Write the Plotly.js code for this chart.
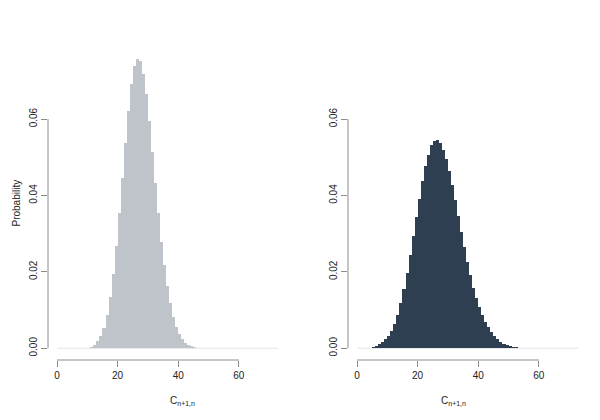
<!DOCTYPE html>
<html>
<head>
<meta charset="utf-8">
<script src="https://cdn.plot.ly/plotly-3.0.1.min.js"></script>
<style>html,body{margin:0;padding:0;background:#fff;}#chart{width:600px;height:420px;}</style>
</head>
<body>
<div id="chart"></div>
<script>
// Bin lower edges (bin width 1)
var bins = [0,1,2,3,4,5,6,7,8,9,10,11,12,13,14,15,16,17,18,19,20,21,22,23,24,25,26,27,28,29,30,31,32,33,34,35,36,37,38,39,40,41,42,43,44,45,46,47,48,49,50,51,52,53,54,55,56,57,58,59,60,61,62,63,64,65,66,67,68,69,70,71,72];

// Left panel probabilities
var probLeft = [0,0,0,0,0,0,0,0,0.00005,0.0001,0.0002,0.0004,0.0008,0.0019,0.0031,0.0052,0.0086,0.0133,0.0194,0.0268,
  0.0354,0.0447,0.0537,0.0622,0.0691,0.0738,0.0757,0.0751,0.0718,0.0665,0.0595,0.0515,0.0434,0.0354,0.0279,0.0217,
  0.0162,0.0118,0.0083,0.0057,0.0037,0.0024,0.0015,0.0009,0.0005,0.0003,0.00015,0.0001,0.00005,0.00003,
  0,0,0,0,0,0,0,0,0,0,0,0,0,0,0,0,0,0,0,0,0,0,0];

// Right panel probabilities
var probRight = [0,0,0,0.0001,0.0002,0.0004,0.0007,0.0011,0.0017,0.0024,0.0033,0.0045,0.0063,0.0087,0.0118,0.0155,
  0.0196,0.0245,0.0294,0.0343,0.0391,0.0437,0.0476,0.0507,0.0531,0.0542,0.0546,0.0538,0.052,0.0495,0.0463,0.0427,
  0.0387,0.0347,0.0305,0.0265,0.0226,0.0191,0.0158,0.0132,0.0108,0.0087,0.0069,0.0055,0.0042,0.0032,0.0024,0.0017,
  0.0012,0.0009,0.0006,0.0004,0.0003,0.0002,0.00015,0.0001,0.00007,0.00005,0.00003,0.00002,
  0,0,0,0,0,0,0,0,0,0,0,0,0];

var yTicks = [0, 0.02, 0.04, 0.06];
var yTickText = ["0.00", "0.02", "0.04", "0.06"];
var xTicks = [0, 20, 40, 60];
var xTickText = ["0", "20", "40", "60"];
var xTitle = "C<sub>n+1,n</sub>";
var yTitle = "Probability";

var fontFam = "Liberation Sans, Arial, Helvetica, sans-serif";
var axisGray = "#8c8c8c";

var traces = [
  {type: "bar", x: bins, y: probLeft, width: 1, offset: 0, xaxis: "x", yaxis: "y",
   marker: {color: "#bec4c9", line: {color: "#bec4c9", width: 0}}, hoverinfo: "x+y"},
  {type: "bar", x: bins, y: probRight, width: 1, offset: 0, xaxis: "x2", yaxis: "y2",
   marker: {color: "#2e3f52", line: {color: "#2e3f52", width: 0}}, hoverinfo: "x+y"}
];

function xAx(domain, anchor) {
  return {domain: domain, anchor: anchor, range: [-2.97, 73.9], showgrid: false, zeroline: false,
    showline: false, ticks: "outside", ticklen: 6, tickwidth: 1, tickcolor: axisGray,
    tickvals: xTicks, ticktext: xTickText, tickfont: {family: fontFam, size: 10, color: "#222"}};
}
function yAx(anchor) {
  return {domain: [60/420, 370/420], anchor: anchor, range: [-0.00307, 0.0781], showgrid: false,
    zeroline: false, showline: false, ticks: "outside", ticklen: 6, tickwidth: 1, tickcolor: axisGray,
    tickvals: yTicks, ticktext: yTickText, tickangle: -90,
    tickfont: {family: fontFam, size: 10, color: "#222"}};
}

var layout = {
  width: 600, height: 420,
  margin: {l: 0, r: 0, t: 0, b: 0},
  paper_bgcolor: "#fff", plot_bgcolor: "#fff",
  showlegend: false, bargap: 0,
  xaxis: xAx([48/600, 281/600], "y"),
  yaxis: yAx("x"),
  xaxis2: xAx([348/600, 581/600], "y2"),
  yaxis2: yAx("x2"),
  shapes: [
    {type: "line", xref: "x domain", x0: 0, x1: 0, yref: "y", y0: 0, y1: 0.06, line: {color: axisGray, width: 1}},
    {type: "line", xref: "x", x0: 0, x1: 60, yref: "y domain", y0: 0, y1: 0, line: {color: axisGray, width: 1}},
    {type: "line", xref: "x2 domain", x0: 0, x1: 0, yref: "y2", y0: 0, y1: 0.06, line: {color: axisGray, width: 1}},
    {type: "line", xref: "x2", x0: 0, x1: 60, yref: "y2 domain", y0: 0, y1: 0, line: {color: axisGray, width: 1}},
    {type: "line", xref: "x", x0: 0, x1: 73, yref: "y", y0: 0, y1: 0, line: {color: "#e2e4e6", width: 1}, layer: "below"},
    {type: "line", xref: "x2", x0: 0, x1: 73, yref: "y2", y0: 0, y1: 0, line: {color: "#e2e4e6", width: 1}, layer: "below"}
  ],
  annotations: [
    {text: yTitle, xref: "paper", yref: "paper", x: 8/600, y: 1 - 203/420, textangle: -90,
     showarrow: false, font: {family: fontFam, size: 10, color: "#222"}},
    {text: xTitle, xref: "paper", yref: "paper", x: 168/600, y: 1 - 409/420,
     showarrow: false, font: {family: fontFam, size: 10, color: "#222"}},
    {text: xTitle, xref: "paper", yref: "paper", x: 468/600, y: 1 - 409/420,
     showarrow: false, font: {family: fontFam, size: 10, color: "#222"}}
  ]
};

Plotly.newPlot("chart", traces, layout, {displayModeBar: false, staticPlot: true});
</script>
</body>
</html>
